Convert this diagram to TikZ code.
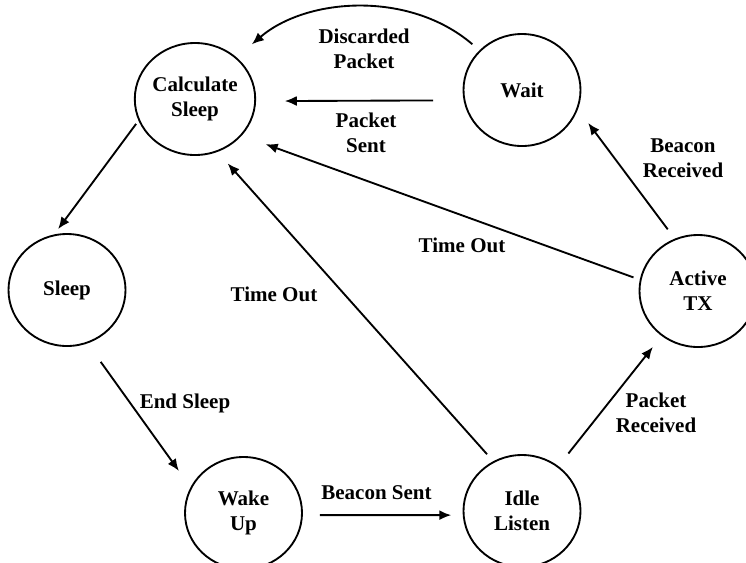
\documentclass[tikz,border=0pt]{standalone}
\usepackage{fontspec}
\setmainfont{Liberation Serif}
\usetikzlibrary{arrows.meta,shapes.geometric}
\tikzset{
	state/.style={ellipse, draw, line width=1.4pt, minimum width=87.75pt, minimum height=84pt, inner sep=0pt, align=center, font=\fontsize{15.75}{19}\selectfont\bfseries},
	lbl/.style={align=center, inner sep=0pt, font=\fontsize{15.75}{19}\selectfont\bfseries},
	arr/.style={line width=1.4pt, -{Latex[length=9pt,width=7.5pt]}}
}

\begin{document}
\begin{tikzpicture}[x=0.75pt, y=-0.75pt]
		%%%%% START %%%%%
		\useasboundingbox (0, 0) rectangle (746, 562);
		
		\node[state] (calc) at (195, 99) {Calculate\\Sleep};
		\node[state] (wait) at (522, 90) {Wait};
		\node[state] (sleep) at (67, 290) {Sleep};
		\node[state] (active) at (698, 291) {Active\\TX};
		\node[state] (wake) at (243.5, 513) {Wake\\Up};
		\node[state] (idle) at (522, 511) {Idle\\Listen};
		
		\node[lbl] (discarded) at (364, 49) {Discarded\\Packet};
		\node[lbl] (pktsent) at (366, 133) {Packet\\Sent};
		\node[lbl] (beaconrx) at (683, 158) {Beacon\\Received};
		\node[lbl] (timeoutA) at (462, 245) {Time Out};
		\node[lbl] (timeoutB) at (274, 294) {Time Out};
		\node[lbl] (endsleep) at (185, 403) {End Sleep};
		\node[lbl] (pktrx) at (656, 413) {Packet\\Received};
		\node[lbl] (beaconsent) at (376.5, 493) {Beacon Sent};
		
		\draw[arr, shorten <=3pt, shorten >=5pt] (calc.201) -- (sleep.103);
		\draw[arr, shorten <=17pt, shorten >=15pt] (sleep.291) -- (wake.154);
		\draw[arr, shorten <=12.8pt, shorten >=8.6pt] (wake.-2) -- (idle.184);
		\draw[arr, shorten <=7pt, shorten >=11.5pt] (idle.120) -- (calc.293);
		\draw[arr, shorten <=12pt, shorten >=10.5pt] (idle.51) -- (active.231);
		\draw[arr, shorten <=8.7pt, shorten >=12.8pt] (active.114) -- (wait.341);
		\draw[arr, shorten <=5pt, shorten >=19pt] (active.169) -- (calc.322);
		\draw[arr, shorten <=22.8pt, shorten >=21.5pt] (wait.190) -- (calc.358);
		\draw[arr, shorten <=7pt, shorten >=15pt] (wait.137) .. controls +(-70, -60) and +(70, -60) .. (calc.45);
		
		%%%%% END %%%%%
	\end{tikzpicture}
\end{document}
